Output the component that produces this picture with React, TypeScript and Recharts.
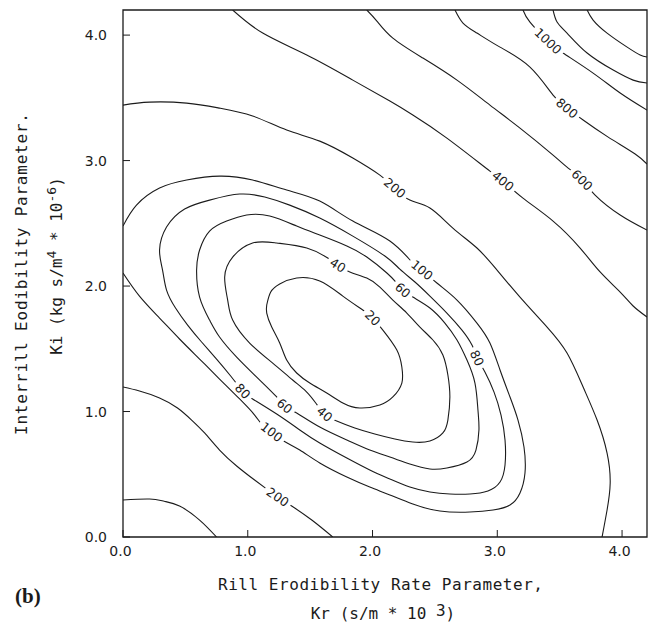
import React from 'react';
import { LineChart, Line, XAxis, YAxis, ReferenceArea } from 'recharts';

type Pt = [number, number, string?];
type Row = { x: number; y: number; tag?: string };

const xTicks = [0, 1, 2, 3, 4];
const yTicks = [0, 1, 2, 3, 4];
const domainMax = 4.2;

// contour traces as [Kr, Ki]; a third item is the level label printed at that spot
const c20: Pt[] = [
  [1.152, 1.849], [1.184, 1.952], [1.256, 2.016], [1.392, 2.064], [1.577, 2.04], [1.762, 1.92],
  [1.922, 1.809], [2.002, 1.745, '20'], [2.083, 1.649], [2.195, 1.49], [2.235, 1.355], [2.235, 1.227],
  [2.163, 1.116], [2.059, 1.052], [1.898, 1.028], [1.762, 1.068], [1.633, 1.147], [1.497, 1.227],
  [1.392, 1.307], [1.312, 1.41], [1.256, 1.546], [1.192, 1.673], [1.152, 1.785], [1.152, 1.849],
];

const c40: Pt[] = [
  [1.722, 2.167, '40'], [1.818, 2.112], [1.954, 2.064], [2.059, 1.992], [2.163, 1.888], [2.275, 1.785],
  [2.38, 1.673], [2.484, 1.57], [2.564, 1.45], [2.604, 1.291], [2.62, 1.116], [2.604, 0.932],
  [2.564, 0.829], [2.46, 0.765], [2.323, 0.757], [2.179, 0.781], [2.018, 0.821], [1.858, 0.869],
  [1.713, 0.924], [1.617, 0.98, '40'], [1.545, 1.068], [1.465, 1.163], [1.36, 1.251], [1.2, 1.386],
  [1.015, 1.546], [0.879, 1.729], [0.839, 1.888], [0.815, 2.072], [0.879, 2.231], [1.039, 2.343],
  [1.232, 2.343], [1.473, 2.303], [1.641, 2.223], [1.722, 2.167],
];

const c60: Pt[] = [
  [2.243, 1.968, '60'], [2.323, 1.912], [2.46, 1.825], [2.58, 1.705], [2.677, 1.57], [2.757, 1.41],
  [2.821, 1.227], [2.845, 1.012], [2.853, 0.853], [2.829, 0.693], [2.757, 0.598], [2.596, 0.55],
  [2.46, 0.542], [2.299, 0.582], [2.139, 0.637], [1.978, 0.693], [1.794, 0.773], [1.577, 0.876],
  [1.392, 0.988], [1.296, 1.044, '60'], [1.232, 1.116], [1.096, 1.251], [0.911, 1.434], [0.774, 1.594],
  [0.694, 1.729], [0.614, 1.912], [0.59, 2.127], [0.614, 2.287], [0.694, 2.438], [0.831, 2.518],
  [0.991, 2.566], [1.176, 2.558], [1.392, 2.478], [1.577, 2.406], [1.794, 2.319], [1.954, 2.231],
  [2.115, 2.104], [2.195, 2.024], [2.243, 1.968],
];

const c80: Pt[] = [
  [2.837, 1.426, '80'], [2.901, 1.315], [2.974, 1.155], [3.03, 0.972], [3.062, 0.773], [3.062, 0.574],
  [3.022, 0.438], [2.925, 0.367], [2.781, 0.343], [2.62, 0.343], [2.46, 0.359], [2.299, 0.398],
  [2.139, 0.462], [1.978, 0.534], [1.794, 0.629], [1.577, 0.749], [1.417, 0.853], [1.232, 0.98],
  [1.039, 1.1], [0.959, 1.163, '80'], [0.863, 1.283], [0.75, 1.418], [0.63, 1.554], [0.518, 1.689],
  [0.421, 1.825], [0.349, 1.968], [0.317, 2.127], [0.293, 2.287], [0.349, 2.47], [0.494, 2.614],
  [0.694, 2.685], [0.935, 2.733], [1.136, 2.709], [1.336, 2.645], [1.577, 2.542], [1.842, 2.398],
  [2.099, 2.239], [2.219, 2.135], [2.34, 2.032], [2.46, 1.92], [2.596, 1.785], [2.717, 1.649],
  [2.797, 1.53], [2.837, 1.426],
];

const c100: Pt[] = [
  [0, 2.478], [0.108, 2.645], [0.293, 2.781], [0.51, 2.845], [0.774, 2.876], [1.039, 2.845],
  [1.312, 2.765], [1.577, 2.677], [1.842, 2.518], [2.139, 2.359], [2.323, 2.183], [2.396, 2.127, '100'],
  [2.516, 2.024], [2.677, 1.888], [2.837, 1.705], [2.941, 1.546], [3.022, 1.331], [3.102, 1.116],
  [3.166, 0.932], [3.214, 0.717], [3.222, 0.51], [3.182, 0.351], [3.102, 0.255], [2.966, 0.215],
  [2.781, 0.199], [2.54, 0.207], [2.323, 0.263], [2.139, 0.335], [1.978, 0.398], [1.794, 0.478],
  [1.577, 0.59], [1.417, 0.693], [1.288, 0.765], [1.192, 0.837, '100'], [1.112, 0.9], [1.055, 0.972],
  [0.935, 1.1], [0.774, 1.259], [0.614, 1.418], [0.453, 1.578], [0.293, 1.745], [0.132, 1.92],
  [0, 2.104],
];

const c200Upper: Pt[] = [
  [0, 3.442], [0.213, 3.466], [0.51, 3.458], [0.774, 3.418], [1.039, 3.355], [1.312, 3.243],
  [1.577, 3.155], [1.842, 3.02], [2.059, 2.884], [2.179, 2.781, '200'], [2.299, 2.685], [2.46, 2.622],
  [2.644, 2.462], [2.837, 2.303], [2.998, 2.127], [3.182, 1.912], [3.399, 1.673], [3.559, 1.466],
  [3.688, 1.195], [3.8, 0.932], [3.88, 0.669], [3.905, 0.43], [3.88, 0.215], [3.84, 0],
];

const c200Lower: Pt[] = [
  [0, 1.195], [0.132, 1.163], [0.293, 1.108], [0.437, 1.028], [0.55, 0.932], [0.654, 0.829],
  [0.774, 0.693], [0.911, 0.566], [1.055, 0.454], [1.152, 0.382], [1.24, 0.319, '200'], [1.352, 0.247],
  [1.513, 0.135], [1.681, 0],
];

const c400Lower: Pt[] = [
  [0, 0.295], [0.213, 0.303], [0.33, 0.285], [0.453, 0.247], [0.614, 0.135], [0.75, 0],
];

const c400Upper: Pt[] = [
  [0.879, 4.2], [1.12, 4.016], [1.473, 3.841], [1.842, 3.641], [2.139, 3.474], [2.323, 3.363],
  [2.596, 3.179], [2.941, 2.916], [3.046, 2.837, '400'], [3.206, 2.701], [3.447, 2.518], [3.664, 2.303],
  [3.824, 2.112], [3.985, 1.952], [4.089, 1.841], [4.2, 1.753],
];

const c600: Pt[] = [
  [1.954, 4.2], [2.035, 4.112], [2.163, 3.976], [2.404, 3.817], [2.677, 3.641], [2.941, 3.442],
  [3.182, 3.259], [3.447, 3.044], [3.559, 2.948], [3.68, 2.845, '600'], [3.784, 2.725], [3.985, 2.566],
  [4.2, 2.446],
];

const c800: Pt[] = [
  [2.661, 4.2], [2.725, 4.096], [2.837, 4.016], [3.022, 3.904], [3.262, 3.745], [3.447, 3.522],
  [3.559, 3.418, '800'], [3.688, 3.323], [3.889, 3.187], [4.105, 3.052], [4.2, 2.972],
];

const c1000: Pt[] = [
  [3.206, 4.2], [3.262, 4.104], [3.407, 3.952, '1000'], [3.527, 3.857], [3.768, 3.697], [3.985, 3.538],
  [4.2, 3.402],
];

const c1200: Pt[] = [
  [3.447, 4.2], [3.479, 4.104], [3.559, 4.016], [3.72, 3.857], [3.929, 3.721], [4.089, 3.641], [4.2, 3.618],
];

const c1400: Pt[] = [
  [3.72, 4.2], [3.768, 4.12], [3.88, 4.016], [4.041, 3.904], [4.145, 3.841], [4.2, 3.825],
];

const contours: { id: string; pts: Pt[] }[] = [
  { id: '20', pts: c20 },
  { id: '40', pts: c40 },
  { id: '60', pts: c60 },
  { id: '80', pts: c80 },
  { id: '100', pts: c100 },
  { id: '200a', pts: c200Upper },
  { id: '200b', pts: c200Lower },
  { id: '400a', pts: c400Upper },
  { id: '400b', pts: c400Lower },
  { id: '600', pts: c600 },
  { id: '800', pts: c800 },
  { id: '1000', pts: c1000 },
  { id: '1200', pts: c1200 },
  { id: '1400', pts: c1400 },
];

const INK = '#1b1b1b';
const PLOT_W = 524;
const PLOT_H = 527;

const toRows = (pts: Pt[]): Row[] => pts.map(([x, y, tag]) => ({ x, y, tag }));

// level label drawn on the line, turned along it, with a white gap behind
function makeLabelDot(rows: Row[]) {
  return (props: any) => {
    const { cx, cy, index } = props;
    const row = rows[index];
    if (!row || !row.tag || cx == null || cy == null) return <g key={`n-${index}`} />;
    const prev = rows[index > 0 ? index - 1 : rows.length - 2];
    const next = rows[index + 1] ?? rows[1];
    const dxp = (next.x - prev.x) * (PLOT_W / domainMax);
    const dyp = -(next.y - prev.y) * (PLOT_H / domainMax);
    let ang = (Math.atan2(dyp, dxp) * 180) / Math.PI;
    if (ang > 90) ang -= 180;
    if (ang < -90) ang += 180;
    const w = row.tag.length * 7.8 + 7;
    return (
      <g key={`l-${index}`} transform={`translate(${cx},${cy}) rotate(${ang})`}>
        <rect x={-w / 2} y={-6.5} width={w} height={13} fill="#fff" />
        <text textAnchor="middle" dy={4.5} fontSize={12.5} fontFamily="DejaVu Sans" fill={INK}>
          {row.tag}
        </text>
      </g>
    );
  };
}

const BottomTick = (props: any) => {
  const { x, y, payload } = props;
  return (
    <g>
      <line x1={x} y1={y} x2={x} y2={y - 7} stroke={INK} strokeWidth={1} />
      <text x={x - 2.5} y={y + 19} textAnchor="middle" fontFamily="DejaVu Sans" fontSize={14} fill={INK}>
        {Number(payload.value).toFixed(1)}
      </text>
    </g>
  );
};

const LeftTick = (props: any) => {
  const { x, y, payload } = props;
  return (
    <g>
      <line x1={x} y1={y} x2={x + 7} y2={y} stroke={INK} strokeWidth={1} />
      <text x={x - 16} y={y + 5} textAnchor="end" fontFamily="DejaVu Sans" fontSize={14} fill={INK}>
        {Number(payload.value).toFixed(1)}
      </text>
    </g>
  );
};

export default function App() {
  const mono = 'DejaVu Sans Mono';
  return (
    <div style={{ position: 'absolute', left: 0, top: 0, width: 654, height: 627, background: '#fff' }}>
      <LineChart width={654} height={627} margin={{ top: 10, right: 7, bottom: 60, left: 0 }}>
        <XAxis
          type="number"
          dataKey="x"
          domain={[0, domainMax]}
          ticks={xTicks}
          allowDataOverflow
          axisLine={false}
          tickLine={false}
          tickSize={0}
          tickMargin={0}
          height={30}
          tick={<BottomTick />}
        />
        <YAxis
          type="number"
          dataKey="y"
          domain={[0, domainMax]}
          ticks={yTicks}
          allowDataOverflow
          axisLine={false}
          tickLine={false}
          tickSize={0}
          tickMargin={0}
          width={123}
          tick={<LeftTick />}
        />
        {contours.map((c) => {
          const rows = toRows(c.pts);
          return (
            <Line
              key={c.id}
              data={rows}
              dataKey="y"
              type="natural"
              stroke={INK}
              strokeWidth={1.1}
              dot={makeLabelDot(rows)}
              activeDot={false}
              legendType="none"
              isAnimationActive={false}
            />
          );
        })}
        <ReferenceArea x1={0} x2={domainMax} y1={0} y2={domainMax} fill="none" stroke={INK} strokeWidth={1.3} />
      </LineChart>
      <svg width={654} height={627} style={{ position: 'absolute', left: 0, top: 0, pointerEvents: 'none' }}>
        <text x={380.5} y={590} textAnchor="middle" fontFamily={mono} fontSize={16} fill={INK}
          textLength={325} lengthAdjust="spacing">
          Rill Erodibility Rate Parameter,
        </text>
        <text x={383} y={619} textAnchor="middle" fontFamily={mono} fontSize={16} fill={INK}>
          Kr (s/m * 10 <tspan dy={-3}>3</tspan>
          <tspan dy={3}>)</tspan>
        </text>
        <text x={27} y={274} transform="rotate(-90 27 274)" textAnchor="middle" fontFamily={mono}
          fontSize={16} fill={INK} textLength={322} lengthAdjust="spacing">
          Interrill Eodibility Parameter.
        </text>
        <text x={62} y={266} transform="rotate(-90 62 266)" textAnchor="middle" fontFamily={mono}
          fontSize={16} fill={INK}>
          Ki (kg s/m<tspan dy={-6} fontSize={13}>4</tspan>
          <tspan dy={6}> * 10</tspan>
          <tspan dy={-6} fontSize={13}>-6</tspan>
          <tspan dy={6}>)</tspan>
        </text>
        <text x={15} y={603} fontFamily="Liberation Serif" fontWeight="bold" fontSize={21} fill={INK}>
          (b)
        </text>
      </svg>
    </div>
  );
}
